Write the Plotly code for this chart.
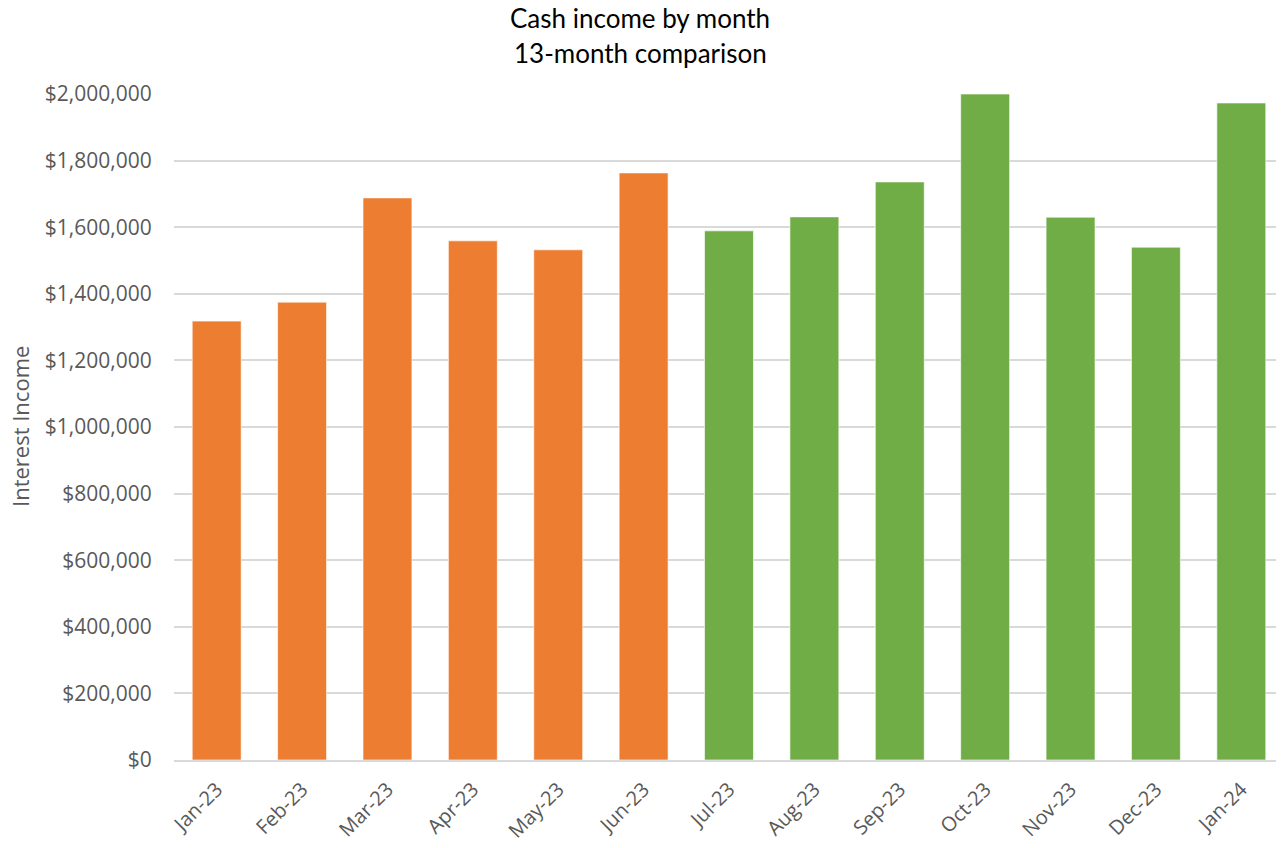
import plotly.graph_objects as go

months = ["Jan-23", "Feb-23", "Mar-23", "Apr-23", "May-23", "Jun-23",
          "Jul-23", "Aug-23", "Sep-23", "Oct-23", "Nov-23", "Dec-23", "Jan-24"]
income = [1318000, 1375000, 1688000, 1559000, 1532000, 1763000,
          1589000, 1631000, 1736000, 2000000, 1630000, 1540000, 1973000]
orange = "#ED7D31"
green = "#70AD47"
bar_colors = [orange] * 6 + [green] * 7

title_lines = ["Cash income by month", "13-month comparison"]
y_title = "Interest Income"
y_ticks = [0, 200000, 400000, 600000, 800000, 1000000, 1200000,
           1400000, 1600000, 1800000, 2000000]

# page body has an 8px offset; compensate so plot area lands at x 174..1285, y 94..760
L, T, B = 166, 86, 88
W, H = 1276, 840
PW = W - L
PH = H - T - B

def px_x(x):
    return (x - 8 - L) / PW

def px_y(y):
    return (H - B - (y - 8)) / PH

fig = go.Figure()
fig.add_trace(go.Bar(
    x=months, y=income,
    marker=dict(color=bar_colors, line=dict(color="rgba(255,255,255,0.6)", width=1)),
    hovertemplate="%{x}: %{y:$,.0f}<extra></extra>",
))

fig.update_layout(
    width=W, height=H,
    margin=dict(l=L, r=0, t=T, b=B),
    paper_bgcolor="white", plot_bgcolor="white",
    bargap=0.427,
    showlegend=False,
    font=dict(family="Open Sans, sans-serif", color="#595959"),
    xaxis=dict(
        type="category",
        showline=True, linecolor="#D9D9D9", linewidth=1.5,
        showgrid=False,
        tickangle=-45,
        ticks="outside", ticklen=8, tickcolor="rgba(0,0,0,0)",
        tickfont=dict(size=20, color="#595959", family="Open Sans, sans-serif"),
    ),
    yaxis=dict(
        range=[0, 2000000],
        tickvals=y_ticks,
        tickformat="$,.0f",
        showgrid=True, gridcolor="#D9D9D9", gridwidth=1.5,
        zeroline=False,
        ticks="outside", ticklen=17, tickcolor="rgba(0,0,0,0)",
        tickfont=dict(size=21, color="#595959", family="Open Sans, sans-serif"),
    ),
)

fig.add_annotation(text=title_lines[0], xref="paper", yref="paper",
                   x=px_x(640), y=px_y(18),
                   xanchor="center", yanchor="middle", showarrow=False,
                   font=dict(size=26, color="#000000", family="Lato, Carlito, sans-serif"))
fig.add_annotation(text=title_lines[1], xref="paper", yref="paper",
                   x=px_x(640), y=px_y(53),
                   xanchor="center", yanchor="middle", showarrow=False,
                   font=dict(size=26, color="#000000", family="Lato, Carlito, sans-serif"))
fig.add_annotation(text=y_title, xref="paper", yref="paper",
                   x=px_x(20), y=px_y(427), textangle=-90,
                   xanchor="center", yanchor="middle", showarrow=False,
                   font=dict(size=22, color="#595959", family="Open Sans, sans-serif"))

fig.write_html("out.html")
